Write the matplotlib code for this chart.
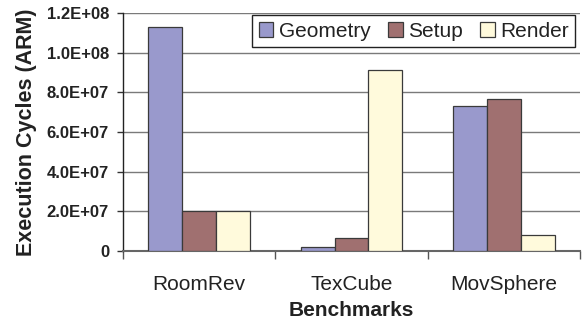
import matplotlib
matplotlib.use("Agg")
import matplotlib.pyplot as plt
import numpy as np
from matplotlib.ticker import FuncFormatter

benchmarks = ["RoomRev", "TexCube", "MovSphere"]
series_names = ["Geometry", "Setup", "Render"]
geometry = [1.128e8, 1.9e6, 7.29e7]
setup = [2.0e7, 6.4e6, 7.66e7]
render = [2.0e7, 9.14e7, 8.2e6]
colors = ["#9999CC", "#A07070", "#FFFADC"]

plt.rcParams["font.family"] = ["Liberation Sans", "DejaVu Sans"]

fig = plt.figure(figsize=(5.82, 3.2), dpi=100)
ax = fig.add_axes([0.2113, 0.2156, 0.7853, 0.7434])

x = np.arange(len(benchmarks))
w = 0.223
for i, (vals, col, name) in enumerate(zip([geometry, setup, render], colors, series_names)):
    ax.bar(x + (i - 1) * w, vals, w, color=col, edgecolor="#3a3a3a",
           linewidth=0.9, label=name, zorder=3)

ax.set_xlim(-0.5, 2.5)
ax.set_ylim(0, 1.2e8)
ax.set_yticks(np.arange(0, 1.21e8, 2e7))

def fmt(v, pos):
    if v == 0:
        return "0"
    return "%.1E" % v

ax.yaxis.set_major_formatter(FuncFormatter(fmt))
ax.grid(axis="y", color="#7a7a7a", linewidth=1.0, zorder=0)
ax.set_axisbelow(True)

# category boundaries carry the tick marks, labels sit at centres
ax.set_xticks([-0.5, 0.5, 1.5, 2.5])
ax.set_xticklabels([])
ax.set_xticks(x, minor=True)
ax.set_xticklabels(benchmarks, minor=True, fontsize=15, color="#222222")
ax.tick_params(axis="x", which="major", length=5.5, width=1.0, color="#555555")
ax.tick_params(axis="x", which="minor", length=0, pad=17)
ax.tick_params(axis="y", length=4, width=1.0, color="#333333", pad=6)
for lbl in ax.get_yticklabels():
    lbl.set_fontweight("bold")
    lbl.set_fontsize(12)
    lbl.set_color("#222222")

for s in ["top", "right"]:
    ax.spines[s].set_visible(False)
ax.spines["left"].set_color("#222222")
ax.spines["bottom"].set_color("#666666")
ax.spines["left"].set_linewidth(1.0)
ax.spines["bottom"].set_linewidth(1.5)

ax.set_ylabel("Execution Cycles (ARM)", fontsize=15.5, fontweight="bold",
              color="#222222", labelpad=7)
ax.set_xlabel("Benchmarks", fontsize=15, fontweight="bold", color="#222222",
              va="top")
ax.xaxis.set_label_coords(0.5, (251 - 301) / 238)

leg = ax.legend(loc="upper right", bbox_to_anchor=(0.99, 0.992), ncol=3,
                fontsize=15, frameon=True, fancybox=False, framealpha=1,
                edgecolor="#222222", handlelength=0.7, handleheight=0.7,
                handletextpad=0.25, columnspacing=0.85, borderpad=0.32,
                borderaxespad=0)
leg.get_frame().set_linewidth(1.0)
for t in leg.get_texts():
    t.set_color("#222222")

fig.savefig("out.png", dpi=100)
